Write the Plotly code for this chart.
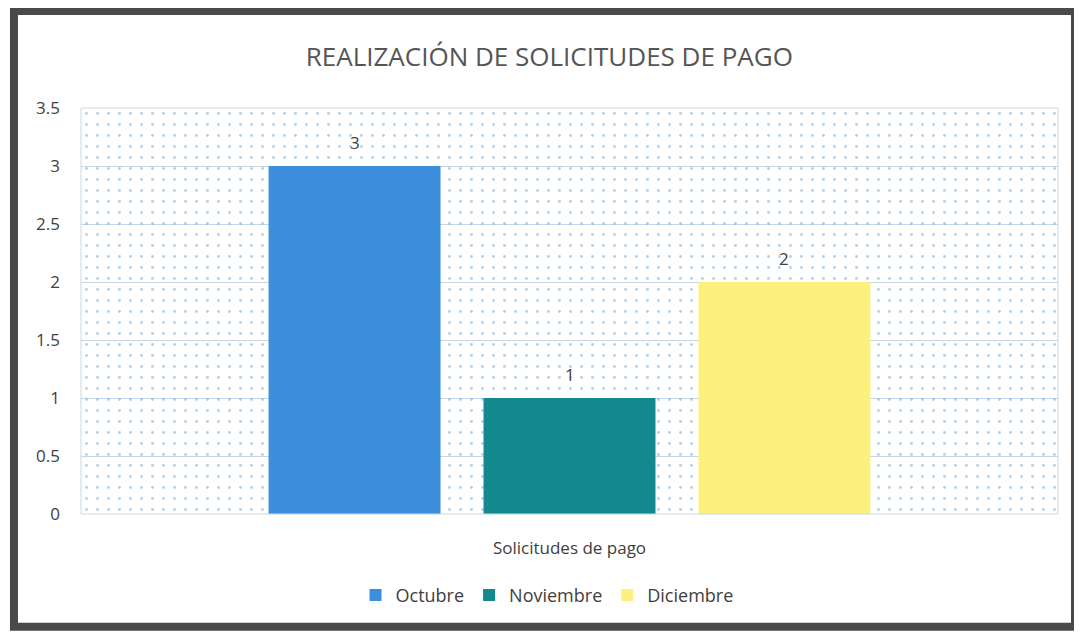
import plotly.graph_objects as go

category = ['Solicitudes de pago']
months = ['Octubre', 'Noviembre', 'Diciembre']
counts = [3, 1, 2]
month_colors = ['#3d8edb', '#14898d', '#fdf07c']
y_max = 3.5
y_ticks = [0, 0.5, 1, 1.5, 2, 2.5, 3, 3.5]

fig = go.Figure()

# dotted background of the plot area (drawn on the hidden numeric x axis)
fig.add_trace(go.Bar(
    x=[0.5], y=[y_max], width=[1], xaxis='x', yaxis='y',
    marker=dict(color='rgba(0,0,0,0)', line=dict(width=0),
                pattern=dict(shape='.', fgcolor='#5f9fd8', bgcolor='rgba(0,0,0,0)',
                             size=11, solidity=0.05, fillmode='overlay')),
    hoverinfo='skip', showlegend=False
))

for month, value, color in zip(months, counts, month_colors):
    fig.add_trace(go.Bar(
        x=category, y=[value], name=month, xaxis='x2', yaxis='y',
        marker=dict(color=color, line=dict(width=0)),
    ))

# value labels sit a little above each bar
bar_shift = [-214.5, 0, 214.5]
for value, shift in zip(counts, bar_shift):
    fig.add_annotation(x=category[0], y=value, xref='x2', yref='y',
                       text=str(value), showarrow=False, xshift=shift, yshift=24,
                       font=dict(size=17, color='#404040'))

# the page body adds an 8px margin, so the figure is 8px smaller each way
fig.update_layout(
    width=1074, height=629,
    margin=dict(l=73, r=24, t=100, b=123),
    paper_bgcolor='white', plot_bgcolor='white',
    font=dict(family='Open Sans, Liberation Sans, sans-serif', color='#404040'),
    title=dict(text='REALIZACIÓN DE SOLICITUDES DE PAGO', x=0.504, y=0.922,
               xanchor='center', yanchor='middle',
               font=dict(size=26, color='#555555')),
    barmode='group', bargap=0.34, bargroupgap=0.2,
    xaxis=dict(range=[0, 1], visible=False, fixedrange=True),
    xaxis2=dict(overlaying='x', side='bottom', showgrid=False, showline=False,
                ticks='', ticklabelstandoff=22, tickfont=dict(size=17, color='#404040')),
    yaxis=dict(range=[0, y_max], tickvals=y_ticks, ticktext=[f'{v:g}' for v in y_ticks],
               showgrid=True, gridcolor='#c6d6e6', gridwidth=1, zeroline=False,
               showline=False, ticks='', ticklabelstandoff=20,
               tickfont=dict(size=17, color='#404040')),
    legend=dict(orientation='h', x=0.477, y=-0.2, xanchor='center', yanchor='middle',
                font=dict(size=18, color='#404040'), itemwidth=30, traceorder='normal'),
    showlegend=True,
)

# thin light border round the plot area
fig.add_shape(type='rect', xref='paper', yref='paper', x0=0, x1=1, y0=0, y1=1,
              line=dict(color='#c6d6e6', width=1))
# dark frame round the whole chart
fig.add_shape(type='rect', xref='paper', yref='paper',
              x0=-0.0686, x1=1.0174, y0=-0.278, y1=1.239,
              line=dict(color='#4a4a4a', width=8))

fig.write_html('out.html')
